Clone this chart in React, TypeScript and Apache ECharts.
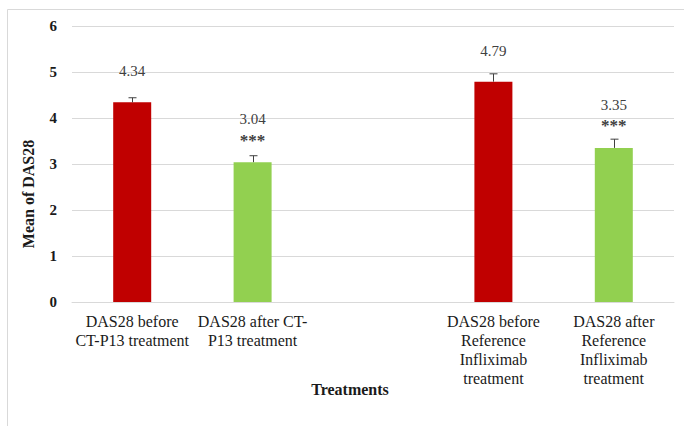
import React, { useEffect, useRef } from "react";
import * as echarts from "echarts";

const categories = [
  "DAS28 before\nCT-P13 treatment",
  "DAS28 after CT-\nP13 treatment",
  "",
  "DAS28 before\nReference\nInfliximab\ntreatment",
  "DAS28 after\nReference\nInfliximab\ntreatment",
];
const means: (number | null)[] = [4.34, 3.04, null, 4.79, 3.35];
const errors: (number | null)[] = [0.1, 0.14, null, 0.17, 0.19];
const significance = ["", "***", "", "", "***"];
const colors = ["#C00000", "#92D050", "#C00000", "#C00000", "#92D050"];
const yTicks = [0, 1, 2, 3, 4, 5, 6];
const yTitle = "Mean of DAS28";
const xTitle = "Treatments";

const FONT = "Liberation Serif";

export default function App() {
  const ref = useRef<HTMLDivElement>(null);
  useEffect(() => {
    if (!ref.current) return;
    const chart = echarts.init(ref.current, null, { renderer: "svg" });
    const barData = means.map((v, i) => ({
      value: v,
      itemStyle: { color: colors[i] },
      label: {
        distance: significance[i] ? 12 : 20,
      },
    }));
    const errData = means.map((v, i) => [i, v, errors[i]]);
    chart.setOption({
      animation: false,
      backgroundColor: "#ffffff",
      textStyle: { fontFamily: FONT },
      grid: { left: 72, right: 10, top: 26, bottom: 124 },
      xAxis: {
        type: "category",
        data: categories,
        axisLine: { show: true, lineStyle: { color: "#d9d9d9", width: 1 } },
        axisTick: { show: false },
        axisLabel: {
          interval: 0,
          margin: 10,
          fontFamily: FONT,
          fontSize: 16,
          lineHeight: 19,
          color: "#1a1a1a",
        },
      },
      yAxis: {
        type: "value",
        min: yTicks[0],
        max: yTicks[yTicks.length - 1],
        interval: 1,
        axisLine: { show: false },
        axisTick: { show: false },
        axisLabel: {
          margin: 15,
          fontFamily: FONT,
          fontSize: 15,
          fontWeight: "bold",
          color: "#1a1a1a",
        },
        splitLine: { lineStyle: { color: "#d9d9d9", width: 1 } },
      },
      graphic: [
        {
          type: "line",
          shape: { x1: 7.5, y1: 9.5, x2: 684, y2: 9.5 },
          style: { stroke: "#d9d9d9", lineWidth: 1 },
          silent: true,
        },
        {
          type: "line",
          shape: { x1: 7.5, y1: 9.5, x2: 7.5, y2: 426 },
          style: { stroke: "#d9d9d9", lineWidth: 1 },
          silent: true,
        },
        {
          type: "text",
          x: 350,
          y: 389,
          style: {
            text: xTitle,
            fontFamily: FONT,
            fontSize: 16,
            fontWeight: "bold",
            fill: "#1a1a1a",
            align: "center",
            verticalAlign: "middle",
          },
        },
        {
          type: "text",
          x: 28,
          y: 194,
          rotation: Math.PI / 2,
          style: {
            text: yTitle,
            fontFamily: FONT,
            fontSize: 16,
            fontWeight: "bold",
            fill: "#1a1a1a",
            align: "center",
            verticalAlign: "middle",
          },
        },
      ],
      series: [
        {
          type: "bar",
          data: barData,
          barWidth: 38,
          label: {
            show: true,
            position: "top",
            formatter: (p: any) => {
              const s = significance[p.dataIndex];
              const v = (p.value as number).toFixed(2);
              return s ? `{v|${v}}\n{s|${s}}` : `{v|${v}}`;
            },
            rich: {
              v: {
                fontFamily: FONT,
                fontSize: 15,
                color: "#404040",
                lineHeight: 22,
              },
              s: {
                fontFamily: FONT,
                fontSize: 17,
                fontWeight: "bold",
                color: "#404040",
                lineHeight: 20,
              },
            },
          },
          z: 2,
        },
        {
          type: "custom",
          data: errData,
          z: 3,
          renderItem: (params: any, api: any) => {
            const v = api.value(1);
            const e = api.value(2);
            if (v == null || isNaN(v) || e == null || isNaN(e)) return null;
            const base = api.coord([api.value(0), v]);
            const top = api.coord([api.value(0), v + e]);
            const x = Math.round(base[0]) + 0.5;
            const cap = 4;
            return {
              type: "group",
              children: [
                {
                  type: "line",
                  shape: { x1: x, y1: base[1], x2: x, y2: top[1] },
                  style: { stroke: "#404040", lineWidth: 1 },
                },
                {
                  type: "line",
                  shape: { x1: x - cap, y1: top[1], x2: x + cap, y2: top[1] },
                  style: { stroke: "#404040", lineWidth: 1 },
                },
              ],
            };
          },
        },
      ],
    });
    return () => chart.dispose();
  }, []);
  return <div ref={ref} style={{ width: 684, height: 426, position: "absolute", left: 0, top: 0 }} />;
}
